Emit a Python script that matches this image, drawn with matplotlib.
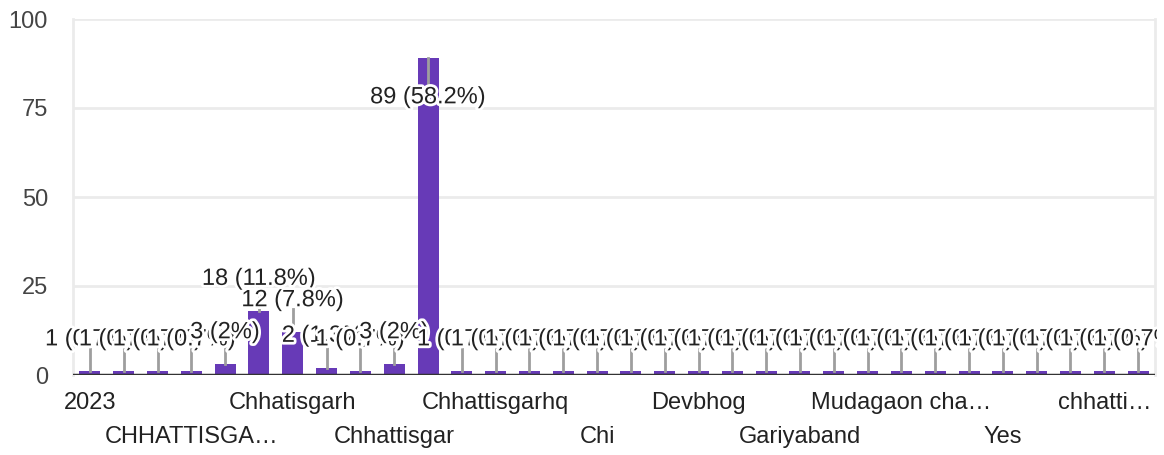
import matplotlib

matplotlib.use("Agg")
import matplotlib.pyplot as plt  # noqa: E402
import matplotlib.patheffects as pe  # noqa: E402
from matplotlib.transforms import Bbox  # noqa: E402

plt.rcParams["font.family"] = ["Liberation Sans", "DejaVu Sans"]

# 32 answers, only every third one gets a tick label in the reference
CATEGORIES = [
    "2023", "", "", "CHHATTISGA…", "", "", "Chhatisgarh", "", "",
    "Chhattisgar", "", "", "Chhattisgarhq", "", "", "Chi", "", "",
    "Devbhog", "", "", "Gariyaband", "", "", "Mudagaon cha…", "", "",
    "Yes", "", "", "chhatti…", "",
]
COUNTS = [1, 1, 1, 1, 3, 18, 12, 2, 1, 3, 89] + [1] * 21
Y_TICKS = [0, 25, 50, 75, 100]

BAR_COLOR = "#673ab7"
TEXT_COLOR = "#222222"
TICK_COLOR = "#444444"
GRID_COLOR = "#ebebeb"
LEADER_COLOR = "#9e9e9e"
FONT_SIZE = 17

W, H = 1164, 455


def pct_text(count, total):
    pct = f"{count / total * 100:.1f}".rstrip("0").rstrip(".")
    return f"{count} ({pct}%)"


def main():
    fig = plt.figure(figsize=(W / 100, H / 100), dpi=100)
    ax = fig.add_axes([73 / W, 1 - 375 / H, (1155 - 73) / W, (375 - 19) / H])

    x = list(range(len(COUNTS)))
    ax.bar(x, COUNTS, width=0.62, color=BAR_COLOR, zorder=2)
    ax.set_xlim(-0.5, len(COUNTS) - 0.5)
    ax.set_ylim(0, 100)

    ax.set_yticks(Y_TICKS)
    ax.set_yticklabels([str(t) for t in Y_TICKS], fontsize=FONT_SIZE, color=TICK_COLOR)
    ax.tick_params(axis="y", length=0, pad=18)
    for t in Y_TICKS[1:]:
        ax.axhline(t, color=GRID_COLOR, lw=2, zorder=0)
    ax.axhline(0, color="#333333", lw=2.5, zorder=3)

    for side in ["top", "bottom"]:
        ax.spines[side].set_visible(False)
    for side in ["left", "right"]:
        ax.spines[side].set_color(GRID_COLOR)
        ax.spines[side].set_linewidth(2)

    # two staggered rows of tick labels
    ax.set_xticks([])
    for i, name in enumerate(CATEGORIES):
        if not name:
            continue
        row = (i // 3) % 2
        ax.annotate(
            name, (i, 0), xytext=(0, -28 - 34 * row), textcoords="offset pixels",
            ha="center", va="center", fontsize=FONT_SIZE, color=TEXT_COLOR,
            annotation_clip=False,
        )

    total = sum(COUNTS)
    clip = Bbox.from_extents(0, 0, 1157, H)
    halo = [pe.withStroke(linewidth=4, foreground="white")]
    for i, count in enumerate(COUNTS):
        label_y = count + 9 if count + 9 < 95 else count - 11
        if label_y > count:
            ax.plot([i, i], [count, label_y - 2.6], color=LEADER_COLOR, lw=2, zorder=3)
        else:
            ax.plot([i, i], [count, label_y + 2.6], color=LEADER_COLOR, lw=2, zorder=3)
        txt = ax.text(
            i, label_y, pct_text(count, total), ha="center", va="center",
            fontsize=FONT_SIZE, color=TEXT_COLOR, zorder=4, path_effects=halo,
        )
        txt.set_clip_box(clip)
        txt.set_clip_on(True)

    fig.savefig("out.png", dpi=100)


if __name__ == "__main__":
    main()
